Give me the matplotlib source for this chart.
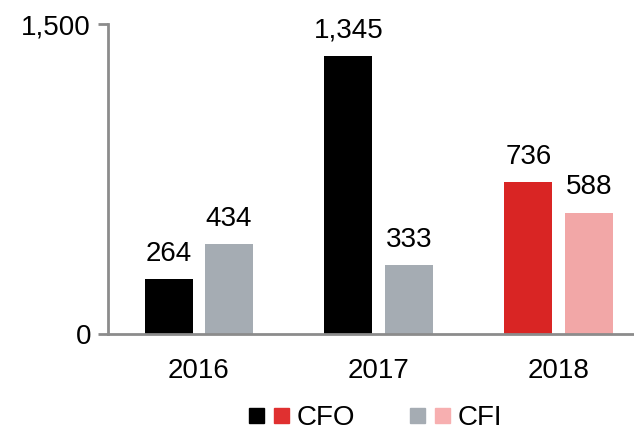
import matplotlib.pyplot as plt
from matplotlib.lines import Line2D
from matplotlib.legend_handler import HandlerTuple
import numpy as np

plt.rcParams['font.family'] = ['Liberation Sans', 'DejaVu Sans']

years = ["2016", "2017", "2018"]
cfo = [264, 1345, 736]
cfi = [434, 333, 588]
cfo_colors = ["#000000", "#000000", "#D92524"]
cfi_colors = ["#A5ACB3", "#A5ACB3", "#F2A7A7"]

fig = plt.figure(figsize=(6.34, 4.32), dpi=100)
ax = fig.add_axes([0.170, 0.227, 0.830, 0.717])

x = np.arange(len(years))
w = 0.267
off = 0.168
b1 = ax.bar(x - off, cfo, w, color=cfo_colors)
b2 = ax.bar(x + off, cfi, w, color=cfi_colors)

for bars, vals in ((b1, cfo), (b2, cfi)):
    for r, v in zip(bars, vals):
        ax.text(r.get_x() + r.get_width() / 2, v + 60, f"{v:,}",
                ha='center', va='bottom', fontsize=20)

ax.set_xlim(-0.506, 2.42)
ax.set_ylim(0, 1500)
ax.set_yticks([0, 1500])
ax.set_yticklabels(["0", "1,500"])
ax.set_xticks(x)
ax.set_xticklabels(years)
ax.tick_params(axis='y', length=7, width=2, color='#8C8C8C', labelsize=20, pad=5)
ax.tick_params(axis='x', length=0, labelsize=20, pad=17)
for s in ('top', 'right'):
    ax.spines[s].set_visible(False)
for s in ('left', 'bottom'):
    ax.spines[s].set_color('#8C8C8C')
    ax.spines[s].set_linewidth(2)

def sq(c):
    return Line2D([], [], marker='s', linestyle='none', markersize=10.8,
                  markerfacecolor=c, markeredgecolor=c)

handles = [(sq(cfo_colors[0]), sq("#E03030")), (sq(cfi_colors[0]), sq("#F7AFB0"))]
fig.legend(handles, ["CFO", "CFI"], loc='center', bbox_to_anchor=(0.588, 0.032),
           ncol=2, frameon=False, fontsize=20, handlelength=1.8, handletextpad=0.12,
           columnspacing=1.75,
           handler_map={tuple: HandlerTuple(ndivide=None, pad=0.0)})

fig.savefig("out.png", dpi=100)
